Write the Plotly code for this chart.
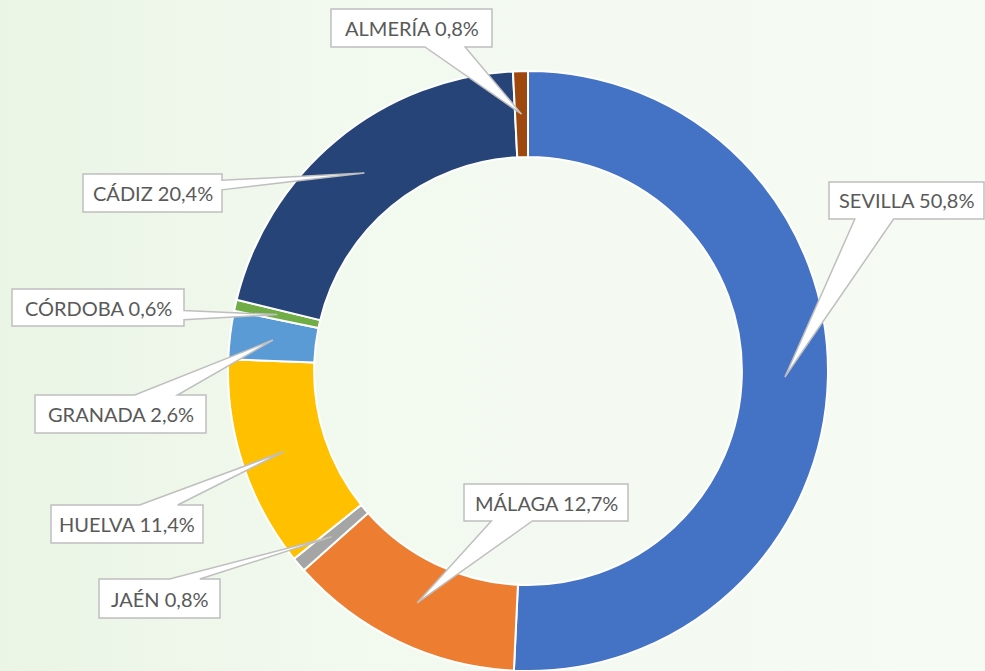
import numpy as np
import plotly.graph_objects as go

W, H = 985, 671

# ---- data ----
provincias = ["SEVILLA", "MÁLAGA", "JAÉN", "HUELVA", "GRANADA", "CÓRDOBA", "CÁDIZ", "ALMERÍA"]
porcentajes = [50.8, 12.7, 0.8, 11.4, 2.6, 0.6, 20.4, 0.8]
colores = ["#4472C4", "#ED7D31", "#A5A5A5", "#FFC000", "#5B9BD5", "#70AD47", "#264478", "#9E480E"]

# ---- layout of the callout boxes (pixels: x0, y0, x1, y1) ----
cajas = [
    (829, 182, 984, 219),
    (464, 484, 628, 521),
    (99, 579, 220, 618),
    (51, 505, 203, 543),
    (35, 395, 206, 433),
    (12, 289, 184, 326),
    (83, 174, 222, 212),
    (331, 9, 492, 47),
]

CX, CY, R, HOLE = 528, 371, 300, 0.713


def px(x, y):
    return x / W, 1 - y / H


fig = go.Figure()

# background gradient
fig.add_trace(go.Scatter(
    x=[0, 1, 1, 0, 0], y=[0, 0, 1, 1, 0], mode="lines", fill="toself",
    line=dict(width=0), hoverinfo="skip", showlegend=False,
    fillgradient=dict(type="horizontal",
                      colorscale=[[0, "#EAF5E5"], [0.35, "#F2F9EF"], [1, "#F6FBF4"]]),
))

fig.add_trace(go.Pie(
    labels=provincias, values=porcentajes, sort=False, direction="clockwise",
    rotation=0, hole=HOLE, textinfo="none", showlegend=False,
    marker=dict(colors=colores, line=dict(color="white", width=2)),
    domain=dict(x=[(CX - R) / W, (CX + R) / W], y=[1 - (CY + R) / H, 1 - (CY - R) / H]),
))

# ---- callouts ----
vals = np.array(porcentajes)
frac_mid = (np.cumsum(vals) - vals / 2) / vals.sum()
r_mid = R * (1 + HOLE) / 2
shapes, annotations = [], []
for name, v, f, (x0, y0, x1, y1) in zip(provincias, porcentajes, frac_mid, cajas):
    th = 2 * np.pi * f
    tx, ty = CX + r_mid * np.sin(th), CY - r_mid * np.cos(th)
    w, h = x1 - x0, y1 - y0
    cx, cy = (x0 + x1) / 2, (y0 + y1) / 2
    dx, dy = tx - cx, ty - cy
    xa, xb = (x0 + w * 7 / 12, x0 + w * 10 / 12) if dx >= 0 else (x0 + w * 2 / 12, x0 + w * 5 / 12)
    ya, yb = (y0 + h * 7 / 12, y0 + h * 10 / 12) if dy >= 0 else (y0 + h * 2 / 12, y0 + h * 5 / 12)
    vertical = abs(dy) / h >= abs(dx) / w
    pts = [(x0, y0)]
    if vertical and dy < 0:
        pts += [(xa, y0), (tx, ty), (xb, y0)]
    pts.append((x1, y0))
    if not vertical and dx > 0:
        pts += [(x1, ya), (tx, ty), (x1, yb)]
    pts.append((x1, y1))
    if vertical and dy > 0:
        pts += [(xb, y1), (tx, ty), (xa, y1)]
    pts.append((x0, y1))
    if not vertical and dx < 0:
        pts += [(x0, yb), (tx, ty), (x0, ya)]
    path = "M " + " L ".join("%.5f,%.5f" % px(a, b) for a, b in pts) + " Z"
    shapes.append(dict(type="path", path=path, xref="paper", yref="paper",
                       fillcolor="white", line=dict(color="#BFBFBF", width=1.5), layer="above"))
    ax_, ay_ = px(cx, cy)
    annotations.append(dict(
        x=ax_, y=ay_, xref="paper", yref="paper", showarrow=False,
        text=f"{name} {v:.1f}%".replace(".", ","),
        font=dict(family="Lato", size=20, color="#595959"),
        xanchor="center", yanchor="middle",
    ))

fig.update_layout(
    width=W, height=H, margin=dict(l=0, r=0, t=0, b=0),
    paper_bgcolor="#F3F9F0", plot_bgcolor="rgba(0,0,0,0)",
    xaxis=dict(visible=False, range=[0, 1], domain=[0, 1], fixedrange=True),
    yaxis=dict(visible=False, range=[0, 1], domain=[0, 1], fixedrange=True),
    shapes=shapes, annotations=annotations,
)

fig.write_html(
    "out.html",
    config={"displayModeBar": False},
    post_script="document.body.style.margin='0';document.body.style.overflow='hidden';",
)
